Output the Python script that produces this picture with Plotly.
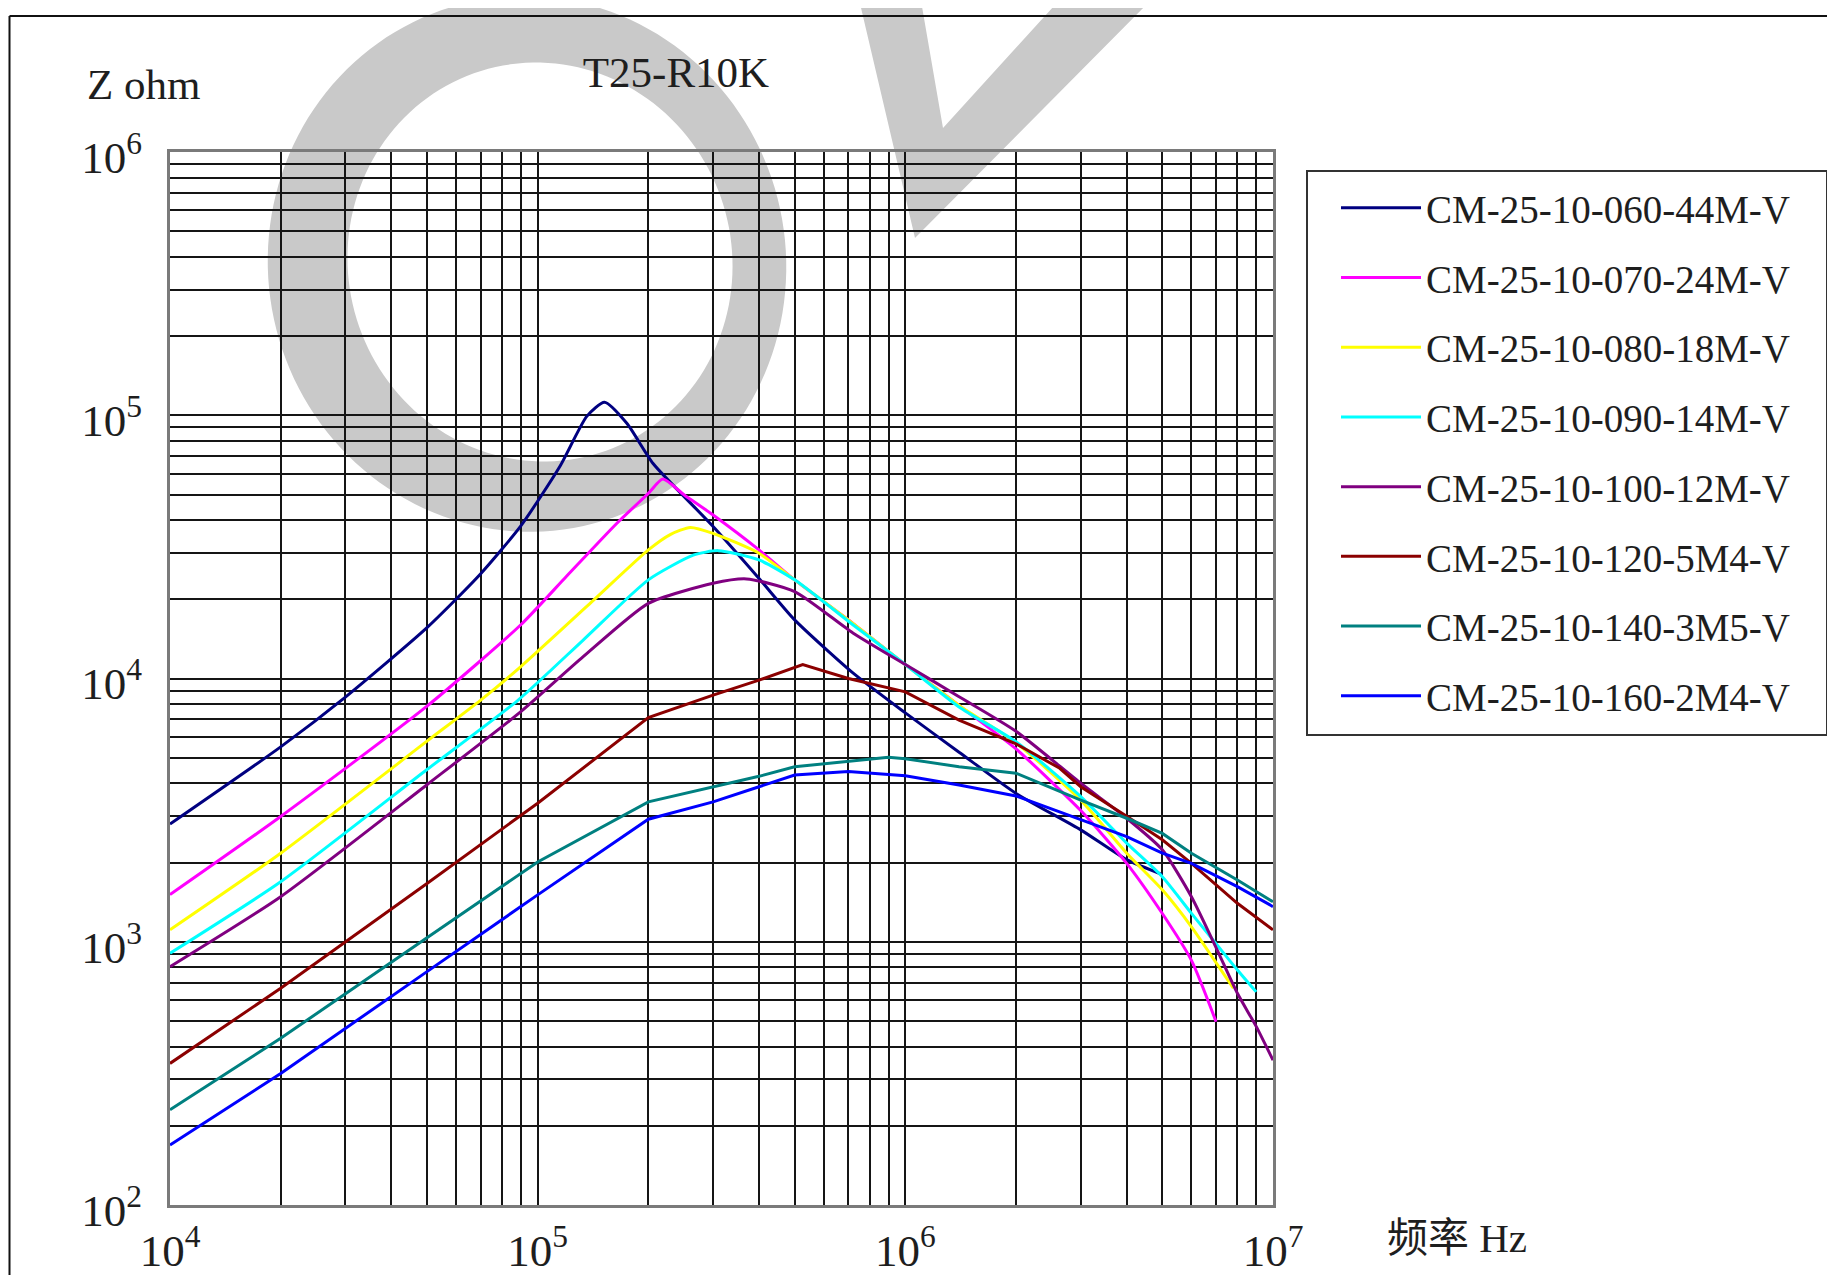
import numpy as np
import plotly.graph_objects as go

# ---------------- data ----------------
series_names = [
    "CM-25-10-060-44M-V",
    "CM-25-10-070-24M-V",
    "CM-25-10-080-18M-V",
    "CM-25-10-090-14M-V",
    "CM-25-10-100-12M-V",
    "CM-25-10-120-5M4-V",
    "CM-25-10-140-3M5-V",
    "CM-25-10-160-2M4-V",
]
series_colors = ["#000080", "#FF00FF", "#FFFF00", "#00FFFF",
                 "#800080", "#8B0000", "#008080", "#0000FF"]

f_060 = [1e4, 2e4, 3e4, 5e4, 7e4, 9e4, 1.15e5, 1.36e5, 1.52e5, 1.75e5, 2.06e5,
         3e5, 4e5, 5e5, 7.2e5, 1e6, 1.4e6, 2e6, 3e6, 4e6, 5e6]
z_060 = [2800, 5500, 8500, 15600, 25000, 38000, 64000, 99000, 112000, 93000, 65600,
         37800, 24000, 16700, 10500, 7400, 5250, 3660, 2660, 2050, 1800]

f_070 = [1e4, 2e4, 5e4, 9e4, 1.2e5, 1.64e5, 2e5, 2.19e5, 2.5e5, 3e5, 4e5, 5e5,
         7.2e5, 1e6, 1.4e6, 2e6, 3e6, 4e6, 5e6, 6e6, 7e6]
z_070 = [1510, 2990, 7850, 16000, 24500, 38800, 50500, 57200, 49900, 41800, 30800, 23700,
         16200, 11300, 7900, 5400, 3150, 1985, 1280, 850, 497]

f_080 = [1e4, 2e4, 5e4, 7e4, 9e4, 1.4e5, 2e5, 2.3e5, 2.6e5, 3e5, 4e5, 5e5,
         7.2e5, 1e6, 1.4e6, 2e6, 3e6, 4e6, 5e6, 6e6, 7.8e6]
z_080 = [1110, 2170, 5780, 8280, 11100, 19500, 30800, 35300, 37500, 35600, 29900, 23700,
         16200, 11300, 7900, 5700, 3450, 2170, 1575, 1140, 666]

f_090 = [1e4, 2e4, 5e4, 8.85e4, 1.33e5, 2e5, 2.65e5, 3.1e5, 4e5, 5e5, 7.2e5, 1e6,
         1.4e6, 2e6, 3e6, 4e6, 5e6, 6e6, 7e6, 8e6, 9e6]
z_090 = [904, 1690, 4510, 8280, 14000, 23700, 29400, 30600, 28200, 23700, 16000, 11300,
         7800, 5750, 3560, 2370, 1766, 1282, 983, 781, 645]

f_100 = [1e4, 2e4, 5e4, 9e4, 1.33e5, 2e5, 3e5, 3.7e5, 5e5, 7.2e5, 1e6, 1.4e6,
         2e6, 3e6, 4e6, 5e6, 6e6, 7e6, 8e6, 9e6, 1e7]
z_100 = [804, 1483, 3950, 7480, 12100, 19300, 23000, 23900, 21400, 14900, 11300, 8530,
         6300, 4000, 2945, 2235, 1483, 950, 637, 477, 355]

f_120 = [1e4, 2e4, 5e4, 1e5, 2e5, 3e5, 4e5, 5.26e5, 7e5, 1e6, 1.4e6, 2e6,
         2.63e6, 3e6, 4e6, 5e6, 6e6, 8e6, 1e7]
z_120 = [345, 666, 1665, 3360, 7100, 8650, 9860, 11300, 10000, 8900, 6950, 5650,
         4560, 3880, 3000, 2440, 1985, 1400, 1110]

f_140 = [1e4, 2e4, 5e4, 1e5, 2e5, 3e5, 4e5, 5e5, 7e5, 9e5, 1e6, 1.4e6, 2e6,
         3e6, 4e6, 5e6, 6e6, 8e6, 1e7]
z_140 = [230, 430, 1035, 2010, 3400, 3880, 4250, 4620, 4830, 5020, 4960, 4620, 4370,
         3450, 2945, 2580, 2170, 1717, 1418]

f_160 = [1e4, 2e4, 5e4, 1e5, 2e5, 3e5, 4e5, 5e5, 7e5, 1e6, 1.4e6, 2e6,
         3e6, 4e6, 5e6, 6e6, 8e6, 1e7]
z_160 = [169, 316, 770, 1507, 2920, 3400, 3880, 4300, 4430, 4270, 3940, 3580,
         2910, 2510, 2170, 1985, 1620, 1360]

freqs = [f_060, f_070, f_080, f_090, f_100, f_120, f_140, f_160]
imps = [z_060, z_070, z_080, z_090, z_100, z_120, z_140, z_160]
smooth = [True, True, True, True, True, False, False, False]

x_decades = [4, 5, 6, 7]
y_decades = [2, 3, 4, 5, 6]

# ---------------- figure geometry (screen px; page body has an 8px margin) ----------------
OFF = 8
SCREEN_W, SCREEN_H = 1835, 1275
PLOT_L, PLOT_T, PLOT_R, PLOT_B = 170, 152, 1273, 1205     # plot area on screen
W, H = SCREEN_W - OFF, SCREEN_H - OFF
ML, MT = PLOT_L - OFF, PLOT_T - OFF
PW, PH = PLOT_R - PLOT_L, PLOT_B - PLOT_T
MR, MB = W - ML - PW, H - MT - PH


def to_paper(px, py):
    """screen pixel -> paper coordinates"""
    return (px - PLOT_L) / PW, (PLOT_B - py) / PH


def decade_ticks(decades):
    vals = [10 ** d for d in decades]
    text = [f"10<sup>{d}</sup>" for d in decades]
    minor = [k * 10 ** d for d in decades[:-1] for k in range(2, 10)]
    return vals, text, minor


xtv, xtt, xminor = decade_ticks(x_decades)
ytv, ytt, yminor = decade_ticks(y_decades)

fig = go.Figure()
for i, name in enumerate(series_names):
    line = dict(color=series_colors[i], width=3)
    if smooth[i]:
        line.update(shape="spline", smoothing=0.6)
    fig.add_trace(go.Scatter(x=freqs[i], y=imps[i], mode="lines", name=name,
                             line=line, legendgroup=f"g{i}"))

# ---------------- decoration: watermark, outer frame, legend box ----------------
def ellipse_path(cx, cy, a, b, rot_deg, n=160):
    t = np.linspace(0, 2 * np.pi, n, endpoint=False)
    r = np.deg2rad(rot_deg)
    xs = cx + a * np.cos(t) * np.cos(r) - b * np.sin(t) * np.sin(r)
    ys = cy + a * np.cos(t) * np.sin(r) + b * np.sin(t) * np.cos(r)
    pts = [to_paper(x, y) for x, y in zip(xs, ys)]
    return "M" + " L".join(f"{x:.5f},{y:.5f}" for x, y in pts) + " Z"


def poly_path(points):
    pts = [to_paper(x, y) for x, y in points]
    return "M" + " L".join(f"{x:.5f},{y:.5f}" for x, y in pts) + " Z"


wm_color = "#C9C9C9"
ring = ellipse_path(527, 264, 259, 268, -10) + " " + ellipse_path(540, 262, 192, 200, -15)
vee = poly_path([(858, -5), (920, -5), (943, 128), (1064, -5), (1156, -5), (915, 238)])

shapes = [
    dict(type="path", path=ring, xref="paper", yref="paper", fillcolor=wm_color,
         fillrule="evenodd", line=dict(width=0), layer="below"),
    dict(type="path", path=vee, xref="paper", yref="paper", fillcolor=wm_color,
         line=dict(width=0), layer="below"),
]
x0p, y0p = to_paper(OFF + 1.5, 16)
x1p, y1p = to_paper(SCREEN_W + 5, SCREEN_H + 5)
shapes += [
    dict(type="line", xref="paper", yref="paper", x0=x0p, x1=x1p, y0=y0p, y1=y0p,
         line=dict(color="#111", width=2)),
    dict(type="line", xref="paper", yref="paper", x0=x0p, x1=x0p, y0=y0p, y1=y1p,
         line=dict(color="#111", width=2)),
]
bx0, by0 = to_paper(1307, 171)
bx1, by1 = to_paper(1827, 735)
shapes.append(dict(type="rect", xref="paper", yref="paper", x0=bx0, x1=bx1, y0=by0, y1=by1,
                   line=dict(color="#333", width=2), fillcolor="white", layer="below"))

serif = "Liberation Serif, Times New Roman, serif"
txt_col = "#1e1e1e"
grid_col = "#151515"

zx, zy = to_paper(143, 85)
hx, hy = to_paper(1457, 1238)
annotations = [
    dict(text="Z ohm", x=zx, y=zy, xref="paper", yref="paper", showarrow=False,
         xanchor="center", yanchor="middle", font=dict(family=serif, size=43, color=txt_col)),
    dict(text="频率 Hz", x=hx, y=hy, xref="paper", yref="paper", showarrow=False,
         xanchor="center", yanchor="middle",
         font=dict(family="Liberation Serif, Noto Sans CJK SC, serif", size=41, color=txt_col)),
]

tx, _ = to_paper(676, 72)
lx, ly = to_paper(1336, 176)

axis_common = dict(type="log", showgrid=True, gridcolor=grid_col, gridwidth=1.7,
                   showline=True, linecolor="#7a7a7a", linewidth=3, mirror=True,
                   ticks="", zeroline=False, tickmode="array", automargin=False,
                   tickfont=dict(family=serif, size=45, color=txt_col))

fig.update_layout(
    width=W, height=H,
    margin=dict(l=ML, r=MR, t=MT, b=MB, autoexpand=False),
    paper_bgcolor="white", plot_bgcolor="rgba(0,0,0,0)",
    title=dict(text="T25-R10K", x=tx, xref="paper", xanchor="center",
               y=1 - (72 - OFF) / H, yref="container", yanchor="middle",
               font=dict(family=serif, size=43, color=txt_col)),
    xaxis=dict(range=[x_decades[0], x_decades[-1]], tickvals=xtv, ticktext=xtt,
               ticklabelstandoff=4,
               minor=dict(tickmode="array", tickvals=xminor, showgrid=True,
                          gridcolor=grid_col, gridwidth=1.7, ticks=""),
               **axis_common),
    yaxis=dict(range=[y_decades[0], y_decades[-1]], tickvals=ytv, ticktext=ytt,
               ticklabelstandoff=16, ticklabelshift=5,
               minor=dict(tickmode="array", tickvals=yminor, showgrid=True,
                          gridcolor=grid_col, gridwidth=1.7, ticks=""),
               **axis_common),
    legend=dict(x=lx, y=ly, xanchor="left", yanchor="top",
                bgcolor="rgba(0,0,0,0)", borderwidth=0,
                font=dict(family=serif, size=39, color=txt_col),
                tracegroupgap=16, itemwidth=80),
    shapes=shapes,
    annotations=annotations,
    showlegend=True,
)

fig.write_html("out.html")
